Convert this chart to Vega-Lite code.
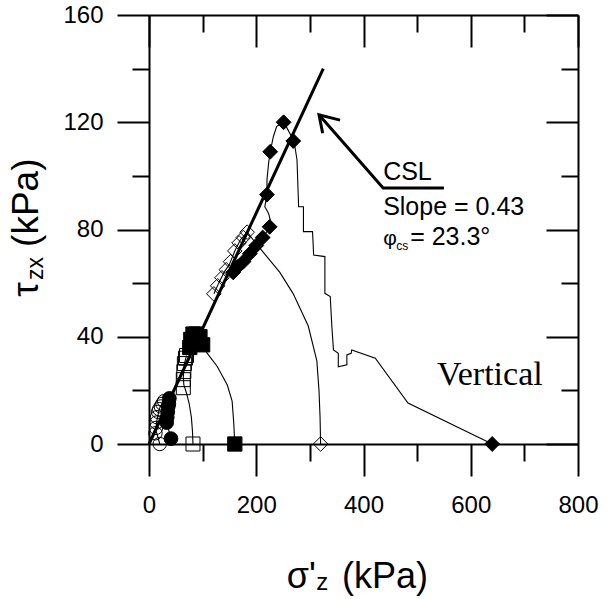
{
  "$schema": "https://vega.github.io/schema/vega-lite/v6.json",
  "autosize": {"type": "none"},
  "width": 429,
  "height": 429,
  "padding": {"left": 149, "top": 15, "right": 29, "bottom": 155},
  "background": "white",
  "config": {"view": {"stroke": null}, "font": "Liberation Sans"},
  "datasets": {
    "paths": [
      {"test": "A", "i": 0, "s": 20, "t": 0}, {"test": "A", "i": 1, "s": 16, "t": 3}, {"test": "A", "i": 2, "s": 13, "t": 5}, {"test": "A", "i": 3, "s": 14, "t": 8}, {"test": "A", "i": 4, "s": 16, "t": 10}, {"test": "A", "i": 5, "s": 18, "t": 12}, {"test": "A", "i": 6, "s": 21, "t": 14}, {"test": "A", "i": 7, "s": 25, "t": 15}, {"test": "A", "i": 8, "s": 28, "t": 16},
      {"test": "B", "i": 0, "s": 41, "t": 2}, {"test": "B", "i": 1, "s": 37, "t": 5}, {"test": "B", "i": 2, "s": 33, "t": 8}, {"test": "B", "i": 3, "s": 34, "t": 11}, {"test": "B", "i": 4, "s": 36, "t": 14}, {"test": "B", "i": 5, "s": 38, "t": 17},
      {"test": "C", "i": 0, "s": 82, "t": 0}, {"test": "C", "i": 1, "s": 81, "t": 5}, {"test": "C", "i": 2, "s": 79, "t": 10}, {"test": "C", "i": 3, "s": 75, "t": 15}, {"test": "C", "i": 4, "s": 70, "t": 19}, {"test": "C", "i": 5, "s": 65, "t": 22}, {"test": "C", "i": 6, "s": 64, "t": 25}, {"test": "C", "i": 7, "s": 66, "t": 30}, {"test": "C", "i": 8, "s": 70, "t": 33},
      {"test": "D", "i": 0, "s": 160, "t": 0}, {"test": "D", "i": 1, "s": 158, "t": 8}, {"test": "D", "i": 2, "s": 155, "t": 16}, {"test": "D", "i": 3, "s": 146, "t": 22}, {"test": "D", "i": 4, "s": 127, "t": 29}, {"test": "D", "i": 5, "s": 108, "t": 34}, {"test": "D", "i": 6, "s": 100, "t": 37}, {"test": "D", "i": 7, "s": 92, "t": 41}, {"test": "D", "i": 8, "s": 82, "t": 41}, {"test": "D", "i": 9, "s": 76, "t": 36},
      {"test": "E", "i": 0, "s": 320, "t": 0}, {"test": "E", "i": 1, "s": 319, "t": 10}, {"test": "E", "i": 2, "s": 317, "t": 20}, {"test": "E", "i": 3, "s": 313, "t": 31}, {"test": "E", "i": 4, "s": 297, "t": 44}, {"test": "E", "i": 5, "s": 269, "t": 56}, {"test": "E", "i": 6, "s": 244, "t": 64}, {"test": "E", "i": 7, "s": 211, "t": 72}, {"test": "E", "i": 8, "s": 195, "t": 76}, {"test": "E", "i": 9, "s": 183, "t": 79}, {"test": "E", "i": 10, "s": 170, "t": 76}, {"test": "E", "i": 11, "s": 160, "t": 72}, {"test": "E", "i": 12, "s": 150, "t": 67}, {"test": "E", "i": 13, "s": 140, "t": 64}, {"test": "E", "i": 14, "s": 130, "t": 60}, {"test": "E", "i": 15, "s": 121, "t": 56},
      {"test": "F", "i": 0, "s": 640, "t": 0}, {"test": "F", "i": 1, "s": 483, "t": 15.3}, {"test": "F", "i": 2, "s": 422, "t": 32}, {"test": "F", "i": 3, "s": 378, "t": 35.1}, {"test": "F", "i": 4, "s": 377, "t": 33.8}, {"test": "F", "i": 5, "s": 369, "t": 33.2}, {"test": "F", "i": 6, "s": 369, "t": 29.5}, {"test": "F", "i": 7, "s": 353, "t": 28.8}, {"test": "F", "i": 8, "s": 353, "t": 33.8}, {"test": "F", "i": 9, "s": 344, "t": 35.1}, {"test": "F", "i": 10, "s": 341, "t": 43.8}, {"test": "F", "i": 11, "s": 338, "t": 55}, {"test": "F", "i": 12, "s": 328, "t": 56.2}, {"test": "F", "i": 13, "s": 328, "t": 69.9}, {"test": "F", "i": 14, "s": 307, "t": 70.5}, {"test": "F", "i": 15, "s": 305, "t": 79.2}, {"test": "F", "i": 16, "s": 288, "t": 79.2}, {"test": "F", "i": 17, "s": 288, "t": 88.5}, {"test": "F", "i": 18, "s": 279, "t": 88.5}, {"test": "F", "i": 19, "s": 276, "t": 106}, {"test": "F", "i": 20, "s": 272, "t": 111}, {"test": "F", "i": 21, "s": 269, "t": 113.4}, {"test": "F", "i": 22, "s": 251, "t": 120.3}, {"test": "F", "i": 23, "s": 238, "t": 118.4}, {"test": "F", "i": 24, "s": 232, "t": 114.7}, {"test": "F", "i": 25, "s": 226, "t": 109}, {"test": "F", "i": 26, "s": 223, "t": 104.7}, {"test": "F", "i": 27, "s": 220, "t": 98.5}, {"test": "F", "i": 28, "s": 220, "t": 92.9}, {"test": "F", "i": 29, "s": 216, "t": 88.5}, {"test": "F", "i": 30, "s": 223, "t": 86}, {"test": "F", "i": 31, "s": 226, "t": 83.6}, {"test": "F", "i": 32, "s": 225, "t": 81}, {"test": "F", "i": 33, "s": 216, "t": 78}, {"test": "F", "i": 34, "s": 204, "t": 76.7}, {"test": "F", "i": 35, "s": 190, "t": 72}, {"test": "F", "i": 36, "s": 175, "t": 68}, {"test": "F", "i": 37, "s": 157, "t": 65}, {"test": "F", "i": 38, "s": 154, "t": 63.7}
    ],
    "points": [
      {"test": "A", "s": 20, "t": 0}, {"test": "A", "s": 12, "t": 4}, {"test": "A", "s": 13, "t": 6}, {"test": "A", "s": 14, "t": 8}, {"test": "A", "s": 15, "t": 10}, {"test": "A", "s": 17, "t": 12}, {"test": "A", "s": 19, "t": 13}, {"test": "A", "s": 22, "t": 14}, {"test": "A", "s": 25, "t": 15}, {"test": "A", "s": 28, "t": 16},
      {"test": "B", "s": 41, "t": 2}, {"test": "B", "s": 33, "t": 8}, {"test": "B", "s": 34, "t": 10}, {"test": "B", "s": 35, "t": 12}, {"test": "B", "s": 36, "t": 14}, {"test": "B", "s": 37, "t": 15}, {"test": "B", "s": 38, "t": 17},
      {"test": "C", "s": 82, "t": 0}, {"test": "C", "s": 64, "t": 21}, {"test": "C", "s": 64, "t": 24}, {"test": "C", "s": 65, "t": 27}, {"test": "C", "s": 66, "t": 30}, {"test": "C", "s": 68, "t": 32}, {"test": "C", "s": 70, "t": 33},
      {"test": "D", "s": 160, "t": 0}, {"test": "D", "s": 100, "t": 37}, {"test": "D", "s": 95, "t": 40}, {"test": "D", "s": 88, "t": 41}, {"test": "D", "s": 82, "t": 41}, {"test": "D", "s": 78, "t": 39}, {"test": "D", "s": 76, "t": 36},
      {"test": "E", "s": 320, "t": 0}, {"test": "E", "s": 183, "t": 79}, {"test": "E", "s": 176, "t": 77}, {"test": "E", "s": 168, "t": 75}, {"test": "E", "s": 160, "t": 72}, {"test": "E", "s": 152, "t": 68}, {"test": "E", "s": 144, "t": 65}, {"test": "E", "s": 136, "t": 62}, {"test": "E", "s": 128, "t": 59}, {"test": "E", "s": 121, "t": 56},
      {"test": "F", "s": 640, "t": 0}, {"test": "F", "s": 269, "t": 113}, {"test": "F", "s": 251, "t": 120}, {"test": "F", "s": 226, "t": 109}, {"test": "F", "s": 220, "t": 93}, {"test": "F", "s": 225, "t": 81}, {"test": "F", "s": 212, "t": 77}, {"test": "F", "s": 200, "t": 74}, {"test": "F", "s": 188, "t": 71}, {"test": "F", "s": 176, "t": 68}, {"test": "F", "s": 165, "t": 66}, {"test": "F", "s": 157, "t": 64}
    ]
  },
  "layer": [
    {
      "data": {"name": "paths"},
      "mark": {"type": "line", "stroke": "black", "strokeWidth": 1.1, "clip": false},
      "encoding": {
        "x": {"field": "s", "type": "quantitative", "scale": {"domain": [0, 800], "nice": false, "zero": false},
          "axis": {"orient": "bottom", "values": [0, 100, 200, 300, 400, 500, 600, 700, 800], "tickSize": {"condition": {"test": "datum.value % 200 === 0", "value": 32}, "value": 17}, "labelExpr": "datum.value % 200 === 0 ? datum.label : ''", "labelFontSize": 24, "labelFont": "Liberation Sans", "labelColor": "black", "labelPadding": 17, "tickColor": "black", "tickWidth": 2, "domainColor": "black", "domainWidth": 2, "grid": false, "title": null, "labelFlush": false, "labelOverlap": false}},
        "y": {"field": "t", "type": "quantitative", "scale": {"domain": [0, 160], "nice": false, "zero": false},
          "axis": {"orient": "left", "values": [0, 20, 40, 60, 80, 100, 120, 140, 160], "tickSize": {"condition": {"test": "datum.value % 40 === 0", "value": 32}, "value": 17}, "labelExpr": "datum.value % 40 === 0 ? datum.label : ''", "labelFontSize": 24, "labelFont": "Liberation Sans", "labelColor": "black", "labelPadding": 14, "tickColor": "black", "tickWidth": 2, "domainColor": "black", "domainWidth": 2, "grid": false, "title": null, "labelFlush": false, "labelOverlap": false}},
        "detail": {"field": "test"},
        "order": {"field": "i", "type": "quantitative"}
      }
    },
    {
      "data": {"values": [{"s": 0, "t": 0}, {"s": 325, "t": 140}]},
      "mark": {"type": "line", "stroke": "black", "strokeWidth": 3, "clip": false},
      "encoding": {
        "x": {"field": "s", "type": "quantitative", "scale": {"domain": [0, 800]},
          "axis": {"orient": "top", "values": [0, 100, 200, 300, 400, 500, 600, 700, 800], "tickSize": {"condition": {"test": "datum.value % 200 === 0", "value": -32}, "value": -17}, "labels": false, "tickColor": "black", "tickWidth": 2, "domainColor": "black", "domainWidth": 2, "grid": false, "title": null}},
        "y": {"field": "t", "type": "quantitative", "scale": {"domain": [0, 160]},
          "axis": {"orient": "right", "values": [0, 20, 40, 60, 80, 100, 120, 140, 160], "tickSize": {"condition": {"test": "datum.value % 40 === 0", "value": -32}, "value": -17}, "labels": false, "tickColor": "black", "tickWidth": 2, "domainColor": "black", "domainWidth": 2, "grid": false, "title": null}}
      }
    },
    {
      "data": {"name": "points"},
      "mark": {"type": "point", "filled": true, "stroke": "black", "strokeWidth": 1, "opacity": 1, "clip": false},
      "encoding": {
        "x": {"field": "s", "type": "quantitative", "axis": null},
        "y": {"field": "t", "type": "quantitative", "axis": null},
        "shape": {"field": "test", "type": "nominal", "legend": null, "scale": {"domain": ["A", "B", "C", "D", "E", "F"], "range": ["circle", "circle", "square", "square", "diamond", "diamond"]}},
        "fill": {"field": "test", "type": "nominal", "legend": null, "scale": {"domain": ["A", "B", "C", "D", "E", "F"], "range": ["transparent", "black", "transparent", "black", "transparent", "black"]}},
        "size": {"field": "test", "type": "nominal", "legend": null, "scale": {"domain": ["A", "B", "C", "D", "E", "F"], "range": [180, 220, 220, 230, 170, 220]}}
      }
    },
    {
      "data": {"values": [
        {"part": "shaft", "i": 0, "s": 550, "t": 95.5}, {"part": "shaft", "i": 1, "s": 436.6, "t": 95.5}, {"part": "shaft", "i": 2, "s": 317, "t": 122.8},
        {"part": "head", "i": 0, "s": 356.3, "t": 120.8}, {"part": "head", "i": 1, "s": 317, "t": 122.8}, {"part": "head", "i": 2, "s": 323.9, "t": 115.9}
      ]},
      "mark": {"type": "line", "stroke": "black", "strokeWidth": 3, "clip": false},
      "encoding": {
        "x": {"field": "s", "type": "quantitative", "axis": null},
        "y": {"field": "t", "type": "quantitative", "axis": null},
        "detail": {"field": "part"},
        "order": {"field": "i", "type": "quantitative"}
      }
    },
    {
      "data": {"values": [{"s": 436.6, "t": 98.5, "label": "CSL"}, {"s": 436.6, "t": 85.4, "label": "Slope = 0.43"}, {"s": 487, "t": 74.3, "label": "= 23.3°"}]},
      "mark": {"type": "text", "align": "left", "baseline": "alphabetic", "font": "Liberation Sans", "fontSize": 25, "color": "black", "clip": false},
      "encoding": {
        "x": {"field": "s", "type": "quantitative", "axis": null},
        "y": {"field": "t", "type": "quantitative", "axis": null},
        "text": {"field": "label"}
      }
    },
    {
      "data": {"values": [{"s": 436.6, "t": 74.3, "label": "φ"}]},
      "mark": {"type": "text", "align": "left", "baseline": "alphabetic", "font": "Liberation Sans", "fontSize": 21, "color": "black", "clip": false},
      "encoding": {
        "x": {"field": "s", "type": "quantitative", "axis": null},
        "y": {"field": "t", "type": "quantitative", "axis": null},
        "text": {"field": "label"}
      }
    },
    {
      "data": {"values": [{"s": 461, "t": 72.4, "label": "cs"}]},
      "mark": {"type": "text", "align": "left", "baseline": "alphabetic", "font": "Liberation Sans", "fontSize": 12, "color": "black", "clip": false},
      "encoding": {
        "x": {"field": "s", "type": "quantitative", "axis": null},
        "y": {"field": "t", "type": "quantitative", "axis": null},
        "text": {"field": "label"}
      }
    },
    {
      "data": {"values": [{"s": 537, "t": 22, "label": "Vertical"}]},
      "mark": {"type": "text", "align": "left", "baseline": "alphabetic", "font": "Liberation Serif", "fontSize": 34, "color": "black", "clip": false},
      "encoding": {
        "x": {"field": "s", "type": "quantitative", "axis": null},
        "y": {"field": "t", "type": "quantitative", "axis": null},
        "text": {"field": "label"}
      }
    },
    {
      "data": {"values": [{"s": 257, "t": -53.7, "label": "σ'"}, {"s": 360, "t": -53.7, "label": "(kPa)"}]},
      "mark": {"type": "text", "align": "left", "baseline": "alphabetic", "font": "Liberation Sans", "fontSize": 36, "color": "black", "clip": false},
      "encoding": {
        "x": {"field": "s", "type": "quantitative", "axis": null},
        "y": {"field": "t", "type": "quantitative", "axis": null},
        "text": {"field": "label"}
      }
    },
    {
      "data": {"values": [{"s": 312, "t": -54.5, "label": "z"}]},
      "mark": {"type": "text", "align": "left", "baseline": "alphabetic", "font": "Liberation Sans", "fontSize": 24, "color": "black", "clip": false},
      "encoding": {
        "x": {"field": "s", "type": "quantitative", "axis": null},
        "y": {"field": "t", "type": "quantitative", "axis": null},
        "text": {"field": "label"}
      }
    },
    {
      "data": {"values": [{"s": -207, "t": 54.9, "label": "τ"}, {"s": -207, "t": 73.5, "label": "(kPa)"}]},
      "mark": {"type": "text", "align": "left", "baseline": "alphabetic", "angle": 270, "font": "Liberation Sans", "fontSize": 37, "color": "black", "clip": false},
      "encoding": {
        "x": {"field": "s", "type": "quantitative", "axis": null},
        "y": {"field": "t", "type": "quantitative", "axis": null},
        "text": {"field": "label"}
      }
    },
    {
      "data": {"values": [{"s": -198, "t": 61.2, "label": "zx"}]},
      "mark": {"type": "text", "align": "left", "baseline": "alphabetic", "angle": 270, "font": "Liberation Sans", "fontSize": 23, "color": "black", "clip": false},
      "encoding": {
        "x": {"field": "s", "type": "quantitative", "axis": null},
        "y": {"field": "t", "type": "quantitative", "axis": null},
        "text": {"field": "label"}
      }
    }
  ]
}
